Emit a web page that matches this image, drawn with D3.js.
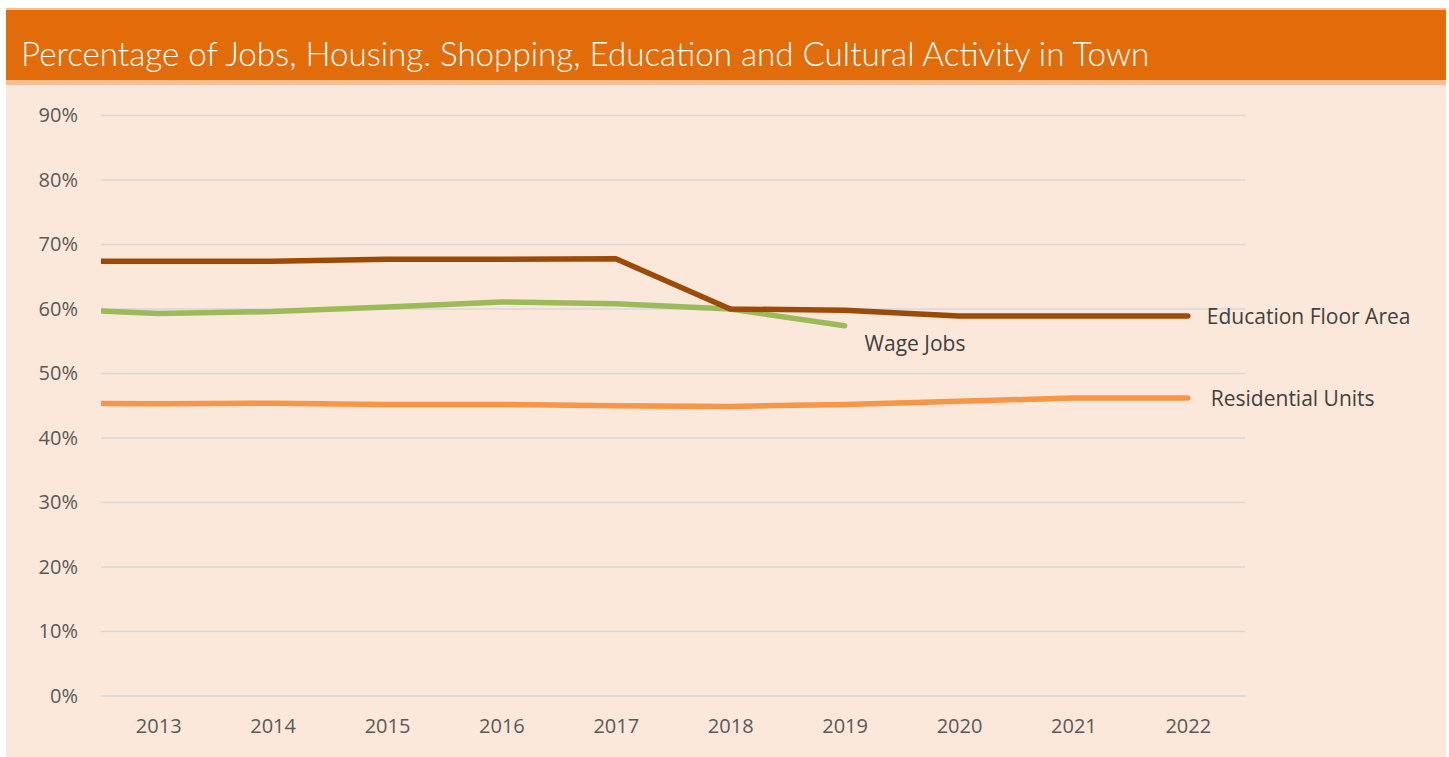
<!DOCTYPE html>
<html>
<head>
<meta charset="utf-8">
<script src="https://cdn.jsdelivr.net/npm/d3@7"></script>
<style>
  html, body { margin: 0; padding: 0; background: #fff; }
  svg { display: block; }
</style>
</head>
<body>
<svg width="1449" height="757"></svg>
<script>
const titleText = "Percentage of Jobs, Housing. Shopping, Education and Cultural Activity in Town";

// years on the axis; 2012 sits just left of the plot and gets clipped
const years = [2012, 2013, 2014, 2015, 2016, 2017, 2018, 2019, 2020, 2021, 2022];
const tickYears = [2013, 2014, 2015, 2016, 2017, 2018, 2019, 2020, 2021, 2022];
const yTicks = [0, 0.1, 0.2, 0.3, 0.4, 0.5, 0.6, 0.7, 0.8, 0.9];

const educationFloorArea = [0.674, 0.674, 0.674, 0.677, 0.677, 0.678, 0.600, 0.598, 0.589, 0.589, 0.589];
const wageJobs = [0.601, 0.593, 0.596, 0.603, 0.611, 0.608, 0.600, 0.574, null, null, null];
const residentialUnits = [0.454, 0.453, 0.454, 0.452, 0.452, 0.450, 0.449, 0.452, 0.457, 0.462, 0.462];

const seriesNames = ["Education Floor Area", "Wage Jobs", "Residential Units"];
const seriesValues = [educationFloorArea, wageJobs, residentialUnits];
const seriesColors = ["#9c4a08", "#9bbb59", "#f79646"];

const svg = d3.select("svg");
const W = 1449, H = 757;

// --- PANEL + HEADER ---
svg.append("rect")
  .attr("x", 6).attr("y", 8).attr("width", 1440).attr("height", H - 8)
  .attr("fill", "#fce8da");
svg.append("rect")
  .attr("x", 6).attr("y", 8).attr("width", 1440).attr("height", 77)
  .attr("fill", "#f8bd90");
svg.append("rect")
  .attr("x", 6).attr("y", 10).attr("width", 1440).attr("height", 70)
  .attr("fill", "#e26b0a");

const title = svg.append("text")
  .attr("x", 21).attr("y", 66)
  .attr("fill", "#ffffff")
  .style("font-family", "Lato, 'Open Sans', sans-serif")
  .style("font-weight", 300)
  .style("font-size", "28px")
  .text(titleText);
// fit title to the reference width
const tw = title.node().getComputedTextLength();
title.style("font-size", (28 * 1129 / tw) + "px");

// --- SCALES ---
const plot = { left: 101, right: 1245, top: 115.5, bottom: 696 };
const x = d3.scaleLinear().domain([2012.5, 2022.5]).range([plot.left, plot.right]);
const y = d3.scaleLinear().domain([0, 0.9]).range([plot.bottom, plot.top]);

// --- GRID ---
svg.append("g")
  .selectAll("line")
  .data(yTicks)
  .join("line")
  .attr("x1", plot.left).attr("x2", plot.right)
  .attr("y1", d => y(d)).attr("y2", d => y(d))
  .attr("stroke", "#d9d9d9")
  .attr("stroke-width", 1.5);

// --- AXES ---
const yAxis = svg.append("g")
  .attr("transform", `translate(${plot.left - 23},0)`)
  .call(d3.axisLeft(y).tickValues(yTicks).tickFormat(d3.format(".0%")).tickSize(0).tickPadding(0));
yAxis.select(".domain").remove();
yAxis.selectAll("text")
  .attr("fill", "#595959")
  .style("font-family", "'Open Sans', sans-serif")
  .style("font-size", "20px");

const xAxis = svg.append("g")
  .attr("transform", `translate(0,${plot.bottom + 23})`)
  .call(d3.axisBottom(x).tickValues(tickYears).tickFormat(d3.format("d")).tickSize(0).tickPadding(0));
xAxis.select(".domain").remove();
xAxis.selectAll("text")
  .attr("fill", "#595959")
  .style("font-family", "'Open Sans', sans-serif")
  .style("font-size", "20px");

// --- LINES ---
svg.append("clipPath").attr("id", "plotClip")
  .append("rect")
  .attr("x", plot.left).attr("y", 0)
  .attr("width", plot.right - plot.left).attr("height", H);

const line = d3.line()
  .defined(d => d[1] != null)
  .x(d => x(d[0]))
  .y(d => y(d[1]));

const lines = svg.append("g").attr("clip-path", "url(#plotClip)");
// draw residential first, then wage jobs, then education on top
[2, 1, 0].forEach(i => {
  lines.append("path")
    .datum(years.map((yr, j) => [yr, seriesValues[i][j]]))
    .attr("d", line)
    .attr("fill", "none")
    .attr("stroke", seriesColors[i])
    .attr("stroke-width", 5.5)
    .attr("stroke-linejoin", "round")
    .attr("stroke-linecap", "round");
});

// --- SERIES LABELS ---
const labelOffsets = [[19, 8], [20, 25], [23, 8]];
seriesNames.forEach((name, i) => {
  const vals = seriesValues[i];
  let last = vals.length - 1;
  while (vals[last] == null) last--;
  svg.append("text")
    .attr("x", x(years[last]) + labelOffsets[i][0])
    .attr("y", y(vals[last]) + labelOffsets[i][1])
    .attr("fill", "#404040")
    .style("font-family", "'Open Sans', sans-serif")
    .style("font-size", "21px")
    .text(name);
});
</script>
</body>
</html>
